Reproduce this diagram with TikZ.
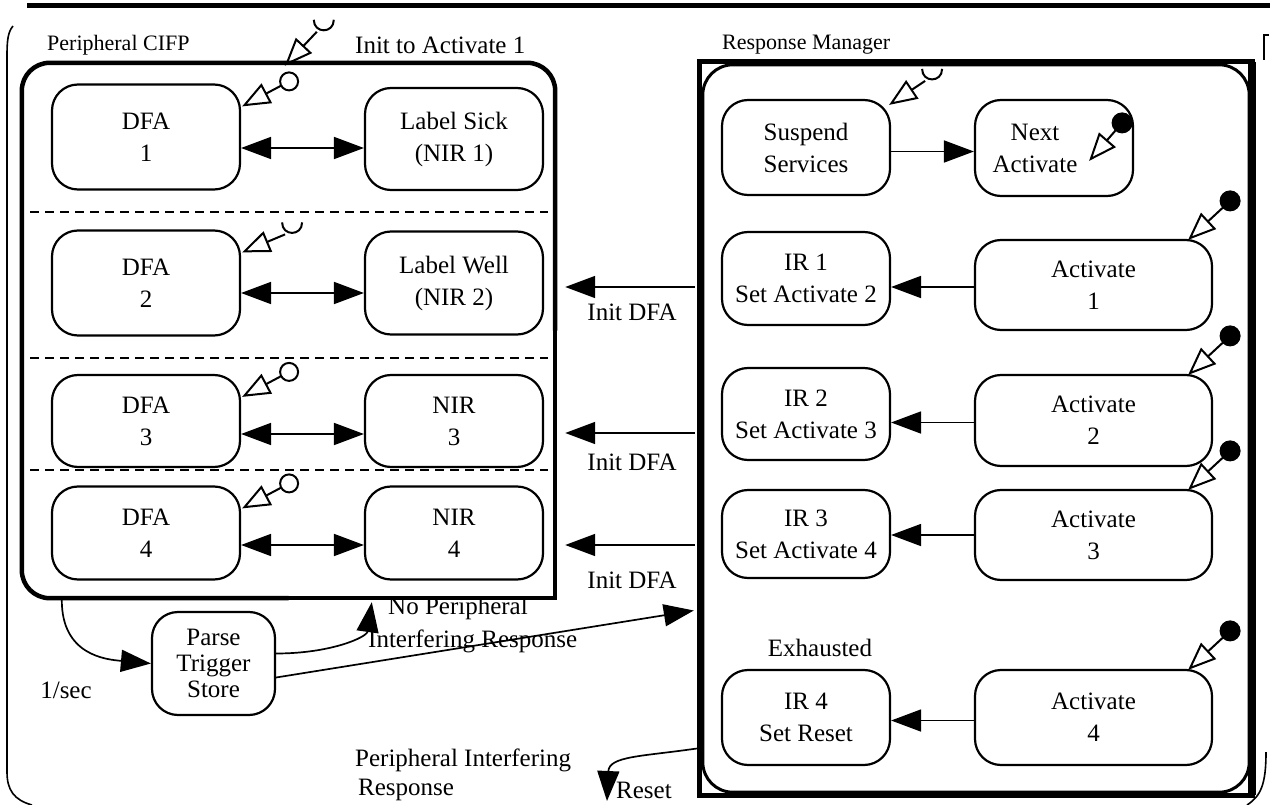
\documentclass[tikz,border=0pt]{standalone}
\usepackage{fontspec}
\setmainfont{Liberation Serif}
\usetikzlibrary{arrows.meta,calc}
\newcommand\osym[2]{\draw[symtri] (#2) -- (#1); \draw[line width=2pt, fill=white] (#2) circle[radius=9];}
\newcommand\fsym[2]{\draw[symtri] (#2) -- (#1); \draw[line width=1pt, fill=black] (#2) circle[radius=10];}
\newcommand\usym[2]{\draw[symtri] (#2) -- (#1);
  \draw[line width=2pt] ($(#2)+(-3,-12)$) .. controls ($(#2)+(-3,2)$) and ($(#2)+(17,2)$) .. ($(#2)+(17,-12)$);}
\begin{document}
\begin{tikzpicture}[x=1pt,y=-1pt,
  every node/.style={font=\fontsize{25}{32}\selectfont},
  st/.style={draw, line width=2.2pt, rounded corners=26pt, align=center, inner sep=0pt},
  txt/.style={inner sep=0pt, align=left},
  ttl/.style={inner sep=0pt, anchor=west, font=\fontsize{22}{26}\selectfont},
  conn/.style={line width=1.7pt},
  fa/.style={-{Triangle[length=30pt,width=22pt]}},
  da/.style={{Triangle[length=30pt,width=22pt]}-{Triangle[length=30pt,width=22pt]}},
  symtri/.style={-{Triangle[open,length=28pt,width=22pt]}, line width=2pt},
  frame/.style={line width=1.6pt},
  sep/.style={line width=1.8pt, dash pattern=on 9pt off 6pt}
]
\useasboundingbox (0,0) rectangle (1270,805);
% top rule and outer frame
\draw[line width=5pt] (27,6) -- (1270,6);
\draw[frame] (13,26) .. controls (8,32) and (7,40) .. (7,56) -- (7,772) .. controls (7,790) and (14,800) .. (32,805);
\draw[frame] (1269,35) -- (1264,35) -- (1264,60);
\draw[frame] (1266,752) .. controls (1266,784) and (1261,796) .. (1247,805);

% Peripheral CIFP container
\node[minimum width=533pt, minimum height=535pt, inner sep=0pt] (pcifp) at (288.5,330.5) {};
\draw[line width=4.5pt, rounded corners=28pt] (pcifp.south) -- (pcifp.south west) -- (pcifp.north west) -- (pcifp.north east) -- (pcifp.east);
\draw[line width=4.5pt, line cap=rect] (pcifp.east) -- (pcifp.south east) -- (pcifp.south);
\node[ttl] (ptitle) at (47,45) {Peripheral CIFP};
\node[ttl, font=\fontsize{25}{26}\selectfont] (initact) at (355,45) {Init to Activate 1};

% Response Manager container
\node[minimum width=552pt, minimum height=733pt, inner sep=0pt] (rm) at (976,428.5) {};
\draw[line width=5pt] (rm.north west) rectangle (rm.south east);
\draw[line width=3pt, rounded corners=30pt] ([shift={(3pt,-3pt)}]rm.north west) rectangle ([shift={(-3pt,3pt)}]rm.south east);
\draw[line width=8pt] (rm.north east) -- (rm.south east);
\node[ttl] (rtitle) at (722,45) {Response Manager};

% DFA column
\node[st, minimum width=188pt, minimum height=105pt] (dfa1) at (146,137) {DFA\\1};
\node[st, minimum width=178pt, minimum height=102pt] (lab1) at (454,139) {Label Sick\\(NIR 1)};
\node[st, minimum width=188pt, minimum height=105pt] (dfa2) at (146,283) {DFA\\2};
\node[st, minimum width=178pt, minimum height=103pt] (lab2) at (454,283) {Label Well\\(NIR 2)};
\node[st, minimum width=188pt, minimum height=92pt] (dfa3) at (146,421) {DFA\\3};
\node[st, minimum width=178pt, minimum height=92pt] (lab3) at (454,421) {NIR\\3};
\node[st, minimum width=188pt, minimum height=93pt] (dfa4) at (146,533) {DFA\\4};
\node[st, minimum width=178pt, minimum height=93pt] (lab4) at (454,533) {NIR\\4};

\draw[sep] (30,212) -- (548,212);
\draw[sep] (30,358) -- (548,358);
\draw[sep] (30,470) -- (548,470);

\foreach \i/\d in {1/11,2/10,3/13,4/12}{
  \draw[conn,da] ([yshift=-\d pt]dfa\i.east) -- ([yshift=-\d pt]dfa\i.east -| lab\i.west);
}

% symbols on DFA boxes and container
\coordinate (td1) at ($(dfa1.north east)+(1,23)$); \coordinate (md1) at ($(td1)+(47,-25)$); \osym{td1}{md1}
\coordinate (td2) at ($(dfa2.north east)+(1,23)$); \coordinate (md2) at ($(td2)+(43,-18)$); \usym{td2}{md2}
\coordinate (td3) at ($(dfa3.north east)+(1,23)$); \coordinate (md3) at ($(td3)+(47,-25)$); \osym{td3}{md3}
\coordinate (td4) at ($(dfa4.north east)+(1,23)$); \coordinate (md4) at ($(td4)+(47,-25)$); \osym{td4}{md4}
\coordinate (tp) at ($(pcifp.north west)+(263,3)$); \coordinate (mp) at ($(tp)+(32,-34)$); \usym{tp}{mp}

% Response Manager nodes
\node[st, minimum width=168pt, minimum height=95pt] (susp) at (806,147.5) {Suspend\\Services};
\node[st, minimum width=158pt, minimum height=96pt] (next) at (1054,148) {Next\hspace*{38pt}\\Activate\hspace*{38pt}};
\node[st, minimum width=168pt, minimum height=93pt] (ir1) at (806,278.5) {IR 1\\Set Activate 2};
\node[st, minimum width=168pt, minimum height=92pt] (ir2) at (806,414) {IR 2\\Set Activate 3};
\node[st, minimum width=168pt, minimum height=88pt] (ir3) at (806,534) {IR 3\\Set Activate 4};
\node[st, minimum width=168pt, minimum height=95pt] (ir4) at (806,717.5) {IR 4\\Set Reset};
\node[st, minimum width=237pt, minimum height=90pt] (act1) at (1093.5,285) {Activate\\1};
\node[st, minimum width=237pt, minimum height=91pt] (act2) at (1093.5,420.5) {Activate\\2};
\node[st, minimum width=237pt, minimum height=90pt] (act3) at (1093.5,535) {Activate\\3};
\node[st, minimum width=237pt, minimum height=95pt] (act4) at (1093.5,717.5) {Activate\\4};
\node[txt] (exh) at (820,648) {Exhausted};

\draw[conn,fa] ([yshift=-4pt]susp.east) -- ([yshift=-4pt]susp.east -| next.west);
\draw[conn,fa] ([yshift=-2pt]act1.west) -- ([yshift=-2pt]act1.west -| ir1.east);
\draw[conn,fa] ([yshift=-2pt]act2.west) -- ([yshift=-2pt]act2.west -| ir2.east);
\draw[conn,fa] (act3.west) -- (act3.west -| ir3.east);
\draw[conn,fa] ([yshift=-3pt]act4.west) -- ([yshift=-3pt]act4.west -| ir4.east);

% symbols in Response Manager
\coordinate (ts) at ($(susp.north east)+(-2,6)$); \coordinate (ms) at ($(ts)+(36,-24)$); \usym{ts}{ms}
\coordinate (tn) at ($(next.north east)+(-45,62)$); \coordinate (mn) at ($(tn)+(33,-38)$); \fsym{tn}{mn}
\foreach \k in {1,2,3,4}{
  \coordinate (ta\k) at ($(act\k.north east)+(-25,1)$);
  \coordinate (ma\k) at ($(ta\k)+(42,-39)$);
  \fsym{ta\k}{ma\k}
}

% Init DFA arrows
\coordinate (i1) at ($(rm.west)+(-5,0)$);
\draw[conn,fa] (i1 |- 0,287) -- ([xshift=10pt]pcifp.east |- 0,287);
\draw[conn,fa] (i1 |- 0,433) -- ([xshift=10pt]pcifp.east |- 0,433);
\draw[conn,fa] (i1 |- 0,545) -- ([xshift=10pt]pcifp.east |- 0,545);
\node[txt] (id1) at (632,312) {Init DFA};
\node[txt] (id2) at (632,462) {Init DFA};
\node[txt] (id3) at (632,580) {Init DFA};

% bottom part
\node[st, font=\fontsize{25}{26}\selectfont, minimum width=123pt, minimum height=103pt] (pts) at (213.5,663.5) {Parse\\Trigger\\Store};
\coordinate (pb) at ($(pcifp.south west)+(40,2)$);
\draw[conn,fa] (pb) .. controls ($(pb)+(0,55)$) and ($(pts.west)+(-45,-4)$) .. (pts.west);
\node[txt] (sec) at (66,690) {1/sec};
\coordinate (pt) at ($(pcifp.south west)+(350,4)$);
\draw[conn,fa] ([yshift=10pt]pts.east) .. controls ($([yshift=10pt]pts.east)+(55,0)$) and ($(pt)+(-5,35)$) .. (pt);
\node[txt, anchor=west] (np1) at (388,608) {No Peripheral};
\node[txt, anchor=west] (np2) at (368,641) {Interfering Response};
\coordinate (rt) at ($(rm.west)+(-6,182)$);
\draw[conn,fa] ([yshift=-14pt]pts.east) -- (rt);
\node[txt, anchor=west] (pi1) at (355,760) {Peripheral Interfering};
\node[txt, anchor=west] (pi2) at (358,790) {Response};
\coordinate (rs) at ($(rm.west)+(-3,320)$);
\coordinate (re) at (607,801);
\draw[conn,fa] (rs) .. controls ($(rs)+(-55,8)$) and ($(re)+(2,-45)$) .. (re);
\node[txt, anchor=west] (rst) at (616,790) {Reset};
\end{tikzpicture}
\end{document}
